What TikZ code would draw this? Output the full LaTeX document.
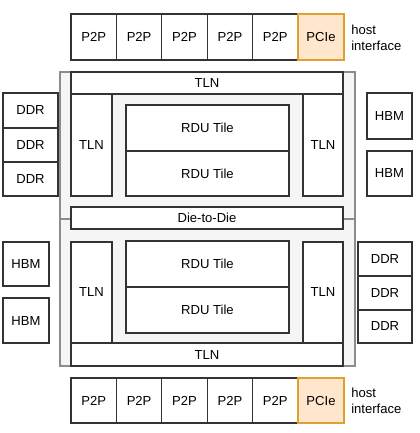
\documentclass[tikz,border=0pt]{standalone}
\usepackage{fontspec}
\setmainfont{Liberation Sans}
\definecolor{panelfill}{HTML}{F5F5F5}
\definecolor{paneldraw}{HTML}{8C8C8C}
\definecolor{pciefill}{HTML}{FFE6CC}
\definecolor{pciedraw}{HTML}{E0A030}
\definecolor{unitdraw}{HTML}{333333}
\tikzset{
  unit/.style={draw=unitdraw, fill=white, line width=0.8pt, inner sep=0pt, outer sep=0pt, font=\fontsize{9.8}{12}\selectfont},
  pcie/.style={unit, draw=pciedraw, fill=pciefill},
  die/.style={draw=paneldraw, fill=panelfill, line width=0.8pt, inner sep=0pt, outer sep=0pt},
}
\newcommand*{\PlaceBlocks}[2]{% #1 = style, #2 = list of name/x1/y1/x2/y2/text
  \foreach \name/\xa/\ya/\xb/\yb/\txt in {#2} {
    \node [#1, minimum width={((\xb)-(\xa))*0.75pt}, minimum height={((\yb)-(\ya))*0.75pt}]
      (\name) at ({((\xa)+(\xb))/2},{((\ya)+(\yb))/2}) {\txt};
  }%
}

\begin{document}
\begin{tikzpicture}[x=0.75pt, y=-0.75pt]
  \useasboundingbox (0,0) rectangle (419,433);
  % the two dies
  \PlaceBlocks{die}{dieTop/60/72/355/219/{}, dieBot/60/219/355/366/{}}
  % top die
  \PlaceBlocks{unit}{tlnTopN/71/72/343/94/TLN, tlnTopW/71/94/112/196/TLN, tlnTopE/303/94/343/196/TLN,
    rduTopA/126/105/289/151/RDU Tile, rduTopB/126/151/289/196/RDU Tile}
  \PlaceBlocks{unit}{d2d/71/207/343/229/Die-to-Die}
  % bottom die
  \PlaceBlocks{unit}{tlnBotW/71/242/112/343/TLN, tlnBotE/303/242/343/343/TLN, tlnBotS/71/343/343/366/TLN,
    rduBotA/126/241/289/287/RDU Tile, rduBotB/126/287/289/333/RDU Tile}
  % memories
  \PlaceBlocks{unit}{ddrTopA/3/93/58/128/DDR, ddrTopB/3/128/58/162/DDR, ddrTopC/3/162/58/196/DDR,
    hbmTopA/367/93/412/139/HBM, hbmTopB/367/151/412/196/HBM}
  \PlaceBlocks{unit}{hbmBotA/3/242/49/286/HBM, hbmBotB/3/298/49/343/HBM,
    ddrBotA/358/242/412/276/DDR, ddrBotB/358/276/412/310/DDR, ddrBotC/358/310/412/343/DDR}
  % host side rows
  \foreach \i in {0,...,4} {
    \PlaceBlocks{unit}{p2pTop\i/{71+\i*45.4}/14/{116.4+\i*45.4}/60/P2P,
      p2pBot\i/{71+\i*45.4}/378/{116.4+\i*45.4}/423/P2P}
  }
  \PlaceBlocks{pcie}{pcieTop/298/14/344/60/PCIe, pcieBot/298/378/344/423/PCIe}
  \node [anchor=west, align=left, inner sep=0pt, font=\fontsize{9.8}{12}\selectfont]
    (hostTop) at (351,38) {host\\interface};
  \node [anchor=west, align=left, inner sep=0pt, font=\fontsize{9.8}{12}\selectfont]
    (hostBot) at (351,401) {host\\interface};
\end{tikzpicture}
\end{document}
